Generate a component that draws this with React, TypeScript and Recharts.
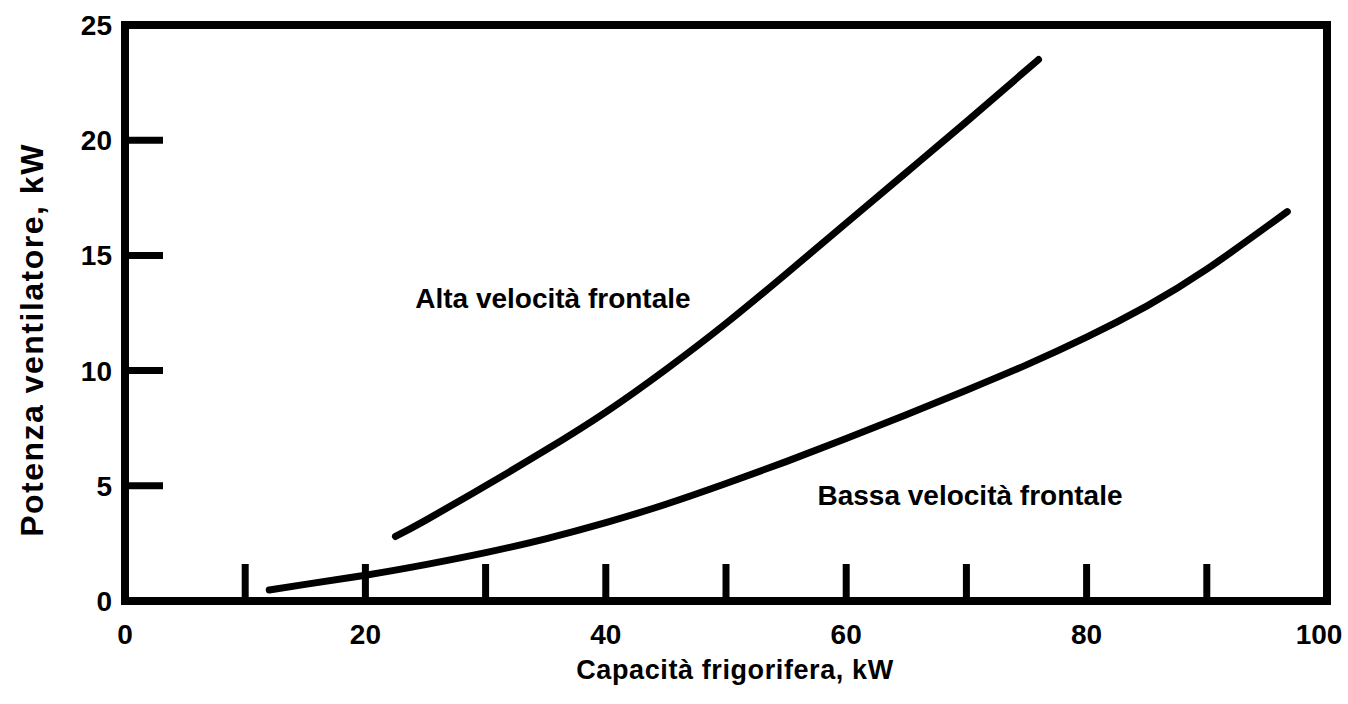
import React from 'react';
import { LineChart, Line, XAxis, YAxis, ReferenceArea, ReferenceDot } from 'recharts';

const altaX = [22.5, 25, 30, 35, 40, 45, 50, 55, 60, 65, 70, 76];
const altaY = [2.8, 3.5, 5.0, 6.55, 8.2, 10.05, 12.05, 14.2, 16.4, 18.6, 20.8, 23.5];
const bassaX = [12, 15, 20, 25, 30, 35, 40, 45, 50, 55, 60, 65, 70, 75, 80, 85, 90, 96.7];
const bassaY = [0.48, 0.72, 1.12, 1.58, 2.1, 2.7, 3.4, 4.2, 5.1, 6.05, 7.05, 8.08, 9.15, 10.25, 11.45, 12.8, 14.4, 16.9];

const xTicks = [0, 10, 20, 30, 40, 50, 60, 70, 80, 90, 100];
const xLabelTicks = [0, 20, 40, 60, 80, 100];
const yTicks = [0, 5, 10, 15, 20, 25];
const yLabelTicks = [0, 5, 10, 15, 20, 25];

const xTitle = 'Capacità frigorifera, kW';
const yTitle = 'Potenza ventilatore, kW';
const altaLabel = 'Alta velocità frontale';
const bassaLabel = 'Bassa velocità frontale';
const altaLabelPos = { x: 35.6, y: 13.15 };
const bassaLabelPos = { x: 70.3, y: 4.6 };

const altaData = altaX.map((x, i) => ({ x, y: altaY[i] }));
const bassaData = bassaX.map((x, i) => ({ x, y: bassaY[i] }));

const FONT = '"Liberation Sans", Arial, Helvetica, sans-serif';

const XTick = (props: any) => {
  const { x, y, payload } = props;
  const v = payload.value;
  return (
    <g>
      {v > 0 && v < 100 ? (
        <line x1={x} x2={x} y1={y} y2={y - 37} stroke="#000" strokeWidth={7} />
      ) : null}
      {xLabelTicks.includes(v) ? (
        <text x={x} y={y + 43} dx={v === 100 ? -8 : 0} textAnchor="middle" fontFamily={FONT} fontWeight="bold" fontSize={28} fill="#000">
          {v}
        </text>
      ) : null}
    </g>
  );
};

const YTick = (props: any) => {
  const { x, y, payload } = props;
  const v = payload.value;
  return (
    <g>
      {v > 0 && v < 25 ? (
        <line x1={x} x2={x + 38} y1={y} y2={y} stroke="#000" strokeWidth={7} />
      ) : null}
      {yLabelTicks.includes(v) ? (
        <text x={x - 13} y={y + 10} textAnchor="end" fontFamily={FONT} fontWeight="bold" fontSize={28} fill="#000">
          {v}
        </text>
      ) : null}
    </g>
  );
};

const XTitle = (props: any) => {
  const vb = props.viewBox || {};
  return (
    <text x={vb.x + vb.width / 2 + 9} y={vb.y + 78} textAnchor="middle" fontFamily={FONT} fontWeight="bold" fontSize={27} letterSpacing={0.6} fill="#000">
      {xTitle}
    </text>
  );
};

const YTitle = (props: any) => {
  const vb = props.viewBox || {};
  const cx = vb.x - 92;
  const cy = vb.y + vb.height / 2 + 27;
  return (
    <text x={cx} y={cy} transform={`rotate(-90 ${cx} ${cy})`} textAnchor="middle" dominantBaseline="central" fontFamily={FONT} fontWeight="bold" fontSize={32} letterSpacing={1.5} fill="#000">
      {yTitle}
    </text>
  );
};

const AnnLabel = (text: string) => (props: any) => {
  const vb = props.viewBox || {};
  const cx = vb.cx !== undefined ? vb.cx : vb.x + (vb.width || 0) / 2;
  const cy = vb.cy !== undefined ? vb.cy : vb.y + (vb.height || 0) / 2;
  return (
    <text x={cx} y={cy} textAnchor="middle" dominantBaseline="central" fontFamily={FONT} fontWeight="bold" fontSize={28} fill="#000">
      {text}
    </text>
  );
};

export default function App() {
  return (
    <div style={{ position: 'absolute', left: 0, top: 0, width: 1348, height: 704, background: '#fff' }}>
      <LineChart width={1348} height={704} margin={{ top: 25, right: 21, bottom: 102, left: 124 }}>
        <XAxis
          type="number"
          dataKey="x"
          domain={[0, 100]}
          ticks={xTicks}
          interval={0}
          height={1}
          tickSize={0}
          tickMargin={0}
          axisLine={false}
          tickLine={false}
          tick={<XTick />}
          label={<XTitle />}
          allowDataOverflow
        />
        <YAxis
          type="number"
          domain={[0, 25]}
          ticks={yTicks}
          interval={0}
          width={1}
          tickSize={0}
          tickMargin={0}
          axisLine={false}
          tickLine={false}
          tick={<YTick />}
          label={<YTitle />}
          allowDataOverflow
        />
        <ReferenceArea x1={0} x2={100} y1={0} y2={25} fill="none" fillOpacity={0} stroke="#000" strokeWidth={8} ifOverflow="visible" />
        <Line data={bassaData} dataKey="y" type="natural" stroke="#000" strokeWidth={7} strokeLinecap="round" dot={false} activeDot={false} isAnimationActive={false} />
        <Line data={altaData} dataKey="y" type="natural" stroke="#000" strokeWidth={7} strokeLinecap="round" dot={false} activeDot={false} isAnimationActive={false} />
        <ReferenceDot x={altaLabelPos.x} y={altaLabelPos.y} r={0} fill="none" stroke="none" label={AnnLabel(altaLabel)} />
        <ReferenceDot x={bassaLabelPos.x} y={bassaLabelPos.y} r={0} fill="none" stroke="none" label={AnnLabel(bassaLabel)} />
      </LineChart>
    </div>
  );
}
